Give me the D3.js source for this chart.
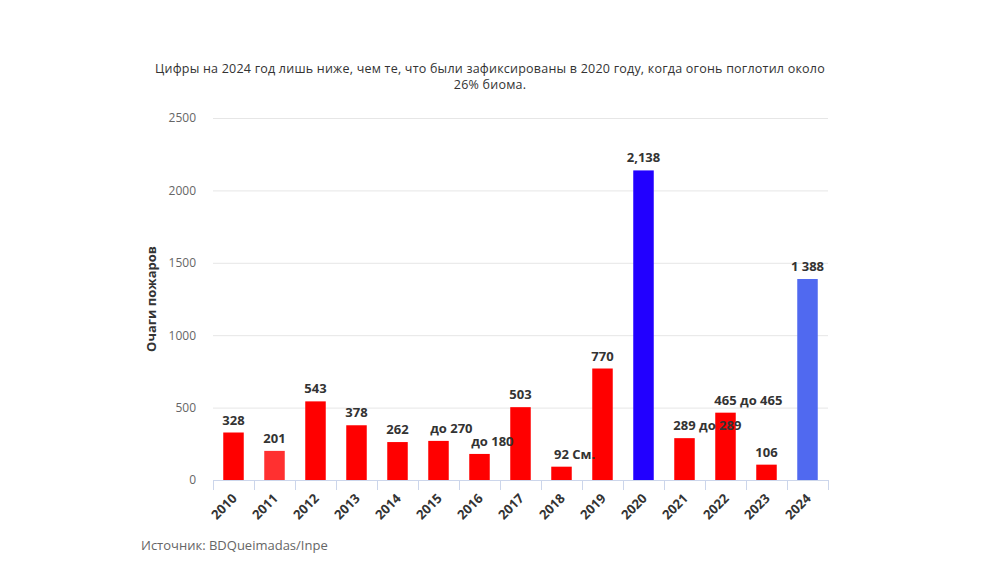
<!DOCTYPE html>
<html><head><meta charset="utf-8">
<script src="https://cdn.jsdelivr.net/npm/d3@7"></script>
<style>body{margin:0;background:#fff}svg{display:block}</style>
</head><body>
<svg id="c" width="1000" height="563"></svg>
<script>
const years = ["2010","2011","2012","2013","2014","2015","2016","2017","2018","2019","2020","2021","2022","2023","2024"];
const values = [328,201,543,378,262,270,180,503,92,770,2138,289,465,106,1388];
const labels = ["328","201","543","378","262","до 270","до 180","503","92 См.","770","2,138","289 до 289","465 до 465","106","1 388"];
const colors = ["#ff0000","#ff3030","#ff0000","#ff0000","#ff0000","#ff0000","#ff0000","#ff0000","#ff0000","#ff0000","#2200ff","#ff0000","#ff0000","#ff0000","#5069f0"];
const yTicks = [0,500,1000,1500,2000,2500];
const titleLines = ["Цифры на 2024 год лишь ниже, чем те, что были зафиксированы в 2020 году, когда огонь поглотил около","26% биома."];
const yTitle = "Очаги пожаров";
const source = "Источник: BDQueimadas/Inpe";

const svg = d3.select("#c");
const font = "'Open Sans', sans-serif";
const L = 213, R = 828, T = 118, B = 480;
const x = d3.scaleBand().domain(years).range([L, R]).paddingInner(0.5).paddingOuter(0.25);
const y = d3.scaleLinear().domain([0, 2500]).range([B, T]);

// title
svg.append("g").selectAll("text").data(titleLines).join("text")
  .attr("x", 490).attr("y", (d,i)=> 73 + i*16).attr("text-anchor","middle")
  .style("font-family", font).style("font-size","12.5px").style("letter-spacing","0.22px")
  .attr("fill","#333").text(d=>d);

// grid
svg.append("g").selectAll("line").data(yTicks.filter(d=>d>0)).join("line")
  .attr("x1", L).attr("x2", R).attr("y1", d=>y(d)+0.5).attr("y2", d=>y(d)+0.5)
  .attr("stroke","#e6e6e6").attr("stroke-width",1);

// y axis labels
const ya = svg.append("g").attr("transform",`translate(${L},0)`)
  .call(d3.axisLeft(y).tickValues(yTicks).tickSize(0).tickPadding(17).tickFormat(d3.format("d")));
ya.select(".domain").remove();
ya.selectAll("text").style("font-family", font).style("font-size","12px").attr("fill","#666").attr("dy","0.32em");

// y title
svg.append("text").attr("transform",`translate(156,${(T+B)/2}) rotate(-90)`)
  .attr("text-anchor","middle").style("font-family", font).style("font-size","13px")
  .style("font-weight","bold").attr("fill","#333").text(yTitle);

// bars
svg.append("g").selectAll("rect").data(years).join("rect")
  .attr("x", d=>x(d)).attr("width", x.bandwidth())
  .attr("y", (d,i)=>y(values[i])).attr("height",(d,i)=>B - y(values[i]))
  .attr("fill",(d,i)=>colors[i]);

// x axis
const step = x.step();
const xa = svg.append("g").attr("transform",`translate(0,${B})`);
xa.append("line").attr("x1",L).attr("x2",R).attr("y1",0.5).attr("y2",0.5).attr("stroke","#ccd6eb");
const tickPos = d3.range(years.length+1).map(i => L + i*step);
xa.selectAll("line.t").data(tickPos).join("line").attr("class","t")
  .attr("x1",d=>d+0.5).attr("x2",d=>d+0.5).attr("y1",0).attr("y2",10).attr("stroke","#ccd6eb");
xa.selectAll("text").data(years).join("text")
  .attr("transform", d=>`translate(${x(d)+x.bandwidth()/2+1},${16}) rotate(-45)`)
  .attr("text-anchor","end").attr("dy","0.35em")
  .style("font-family", font).style("font-size","13px").style("font-weight","bold")
  .attr("fill","#333").text(d=>d);

// data labels
const lg = svg.append("g");
labels.forEach((lab, i) => {
  const cx = x(years[i]) + x.bandwidth()/2;
  const ty = y(values[i]) - 8;
  const t = lg.append("text").attr("y", ty)
    .style("font-family", font).style("font-size","13px").style("font-weight","bold").attr("fill","#333");
  if (/[а-яА-Яa-zA-Z]/.test(lab)) {
    const first = lab.split(" ")[0];
    const tmp = lg.append("text").style("font-family", font).style("font-size","13px").style("font-weight","bold").text(first);
    const w = tmp.node().getComputedTextLength(); tmp.remove();
    t.attr("x", cx - w/2).attr("text-anchor","start").text(lab);
  } else {
    t.attr("x", cx).attr("text-anchor","middle").text(lab);
  }
});

// source
svg.append("text").attr("x",141).attr("y",550).style("font-family", font).style("font-size","13px")
  .attr("fill","#666").text(source);
</script>
</body></html>
